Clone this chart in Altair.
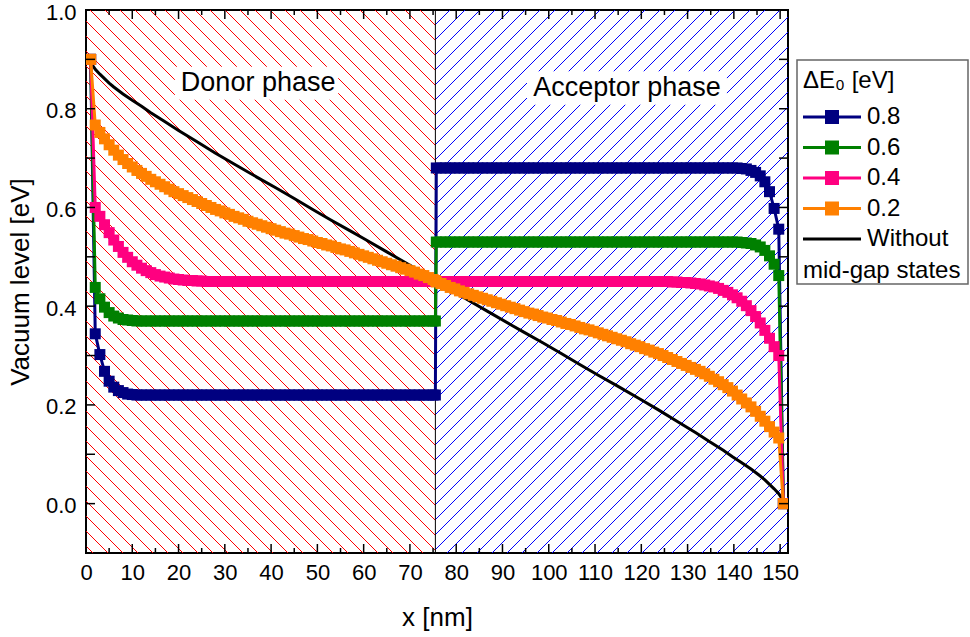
import altair as alt
import pandas as pd

# ---------------- simulation grid (nm) ----------------
x_donor = [float(i) for i in range(1, 76)] + [75.5]
x_acceptor = [round(75.7 + i, 1) for i in range(76)]

# ---------------- vacuum level profiles [eV] ----------------
blue_donor = [0.900, 0.344, 0.302, 0.268, 0.248, 0.236, 0.229, 0.225, 0.222, 0.221,
              0.220, 0.220, 0.220, 0.220, 0.220, 0.220, 0.220, 0.220, 0.220, 0.220, 0.220,
              0.220, 0.220, 0.220, 0.220, 0.220, 0.220, 0.220, 0.220, 0.220, 0.220, 0.220,
              0.220, 0.220, 0.220, 0.220, 0.220, 0.220, 0.220, 0.220, 0.220, 0.220, 0.220,
              0.220, 0.220, 0.220, 0.220, 0.220, 0.220, 0.220, 0.220, 0.220, 0.220, 0.220,
              0.220, 0.220, 0.220, 0.220, 0.220, 0.220, 0.220, 0.220, 0.220, 0.220, 0.220,
              0.220, 0.220, 0.220, 0.220, 0.220, 0.220, 0.220, 0.220, 0.220, 0.220, 0.220]
blue_acceptor = [0.680, 0.680, 0.680, 0.680, 0.680, 0.680, 0.680, 0.680, 0.680, 0.680, 0.680,
                 0.680, 0.680, 0.680, 0.680, 0.680, 0.680, 0.680, 0.680, 0.680, 0.680, 0.680,
                 0.680, 0.680, 0.680, 0.680, 0.680, 0.680, 0.680, 0.680, 0.680, 0.680, 0.680,
                 0.680, 0.680, 0.680, 0.680, 0.680, 0.680, 0.680, 0.680, 0.680, 0.680, 0.680,
                 0.680, 0.680, 0.680, 0.680, 0.680, 0.680, 0.680, 0.680, 0.680, 0.680, 0.680,
                 0.680, 0.680, 0.680, 0.680, 0.680, 0.680, 0.680, 0.680, 0.680, 0.680, 0.680,
                 0.679, 0.678, 0.675, 0.671, 0.664, 0.652, 0.632, 0.598, 0.556, 0.000]

green_donor = [0.900, 0.438, 0.415, 0.398, 0.387, 0.380, 0.376, 0.373, 0.372, 0.371,
               0.370, 0.370, 0.370, 0.370, 0.370, 0.370, 0.370, 0.370, 0.370, 0.370, 0.370,
               0.370, 0.370, 0.370, 0.370, 0.370, 0.370, 0.370, 0.370, 0.370, 0.370, 0.370,
               0.370, 0.370, 0.370, 0.370, 0.370, 0.370, 0.370, 0.370, 0.370, 0.370, 0.370,
               0.370, 0.370, 0.370, 0.370, 0.370, 0.370, 0.370, 0.370, 0.370, 0.370, 0.370,
               0.370, 0.370, 0.370, 0.370, 0.370, 0.370, 0.370, 0.370, 0.370, 0.370, 0.370,
               0.370, 0.370, 0.370, 0.370, 0.370, 0.370, 0.370, 0.370, 0.370, 0.370, 0.370]
green_acceptor = [0.530, 0.530, 0.530, 0.530, 0.530, 0.530, 0.530, 0.530, 0.530, 0.530, 0.530,
                  0.530, 0.530, 0.530, 0.530, 0.530, 0.530, 0.530, 0.530, 0.530, 0.530, 0.530,
                  0.530, 0.530, 0.530, 0.530, 0.530, 0.530, 0.530, 0.530, 0.530, 0.530, 0.530,
                  0.530, 0.530, 0.530, 0.530, 0.530, 0.530, 0.530, 0.530, 0.530, 0.530, 0.530,
                  0.530, 0.530, 0.530, 0.530, 0.530, 0.530, 0.530, 0.530, 0.530, 0.530, 0.530,
                  0.530, 0.530, 0.530, 0.530, 0.530, 0.530, 0.530, 0.530, 0.530, 0.530, 0.530,
                  0.529, 0.528, 0.527, 0.524, 0.520, 0.513, 0.502, 0.485, 0.462, 0.000]

pink_donor = [0.900, 0.600, 0.582, 0.565, 0.549, 0.534, 0.521, 0.509, 0.499, 0.490,
              0.483, 0.477, 0.472, 0.468, 0.464, 0.461, 0.459, 0.457, 0.455, 0.454,
              0.453, 0.452, 0.452, 0.451, 0.451,
              0.450, 0.450, 0.450, 0.450, 0.450, 0.450, 0.450, 0.450, 0.450, 0.450,
              0.450, 0.450, 0.450, 0.450, 0.450, 0.450, 0.450, 0.450, 0.450, 0.450,
              0.450, 0.450, 0.450, 0.450, 0.450, 0.450, 0.450, 0.450, 0.450, 0.450,
              0.450, 0.450, 0.450, 0.450, 0.450, 0.450, 0.450, 0.450, 0.450, 0.450,
              0.450, 0.450, 0.450, 0.450, 0.450, 0.450, 0.450, 0.450, 0.450, 0.450, 0.450]
pink_acceptor = [0.450, 0.450, 0.450, 0.450, 0.450, 0.450, 0.450, 0.450, 0.450, 0.450,
                 0.450, 0.450, 0.450, 0.450, 0.450, 0.450, 0.450, 0.450, 0.450, 0.450,
                 0.450, 0.450, 0.450, 0.450, 0.450, 0.450, 0.450, 0.450, 0.450, 0.450,
                 0.450, 0.450, 0.450, 0.450, 0.450, 0.450, 0.450, 0.450, 0.450, 0.450,
                 0.450, 0.450, 0.450, 0.450, 0.450, 0.450, 0.450, 0.450, 0.450, 0.450, 0.450,
                 0.449, 0.449, 0.448, 0.448, 0.447, 0.446, 0.445, 0.443, 0.441, 0.439,
                 0.436, 0.432, 0.428, 0.423, 0.417, 0.410, 0.401, 0.391, 0.379, 0.366,
                 0.351, 0.335, 0.318, 0.300, 0.000]

orange_donor = [0.900, 0.767, 0.752, 0.739, 0.727, 0.716, 0.706, 0.697, 0.689, 0.682,
                0.675, 0.669, 0.663, 0.657, 0.652, 0.647, 0.642, 0.637, 0.632, 0.628,
                0.624, 0.620, 0.616, 0.612, 0.608, 0.604, 0.600, 0.596, 0.593, 0.589,
                0.586, 0.582, 0.579, 0.576, 0.572, 0.569, 0.566, 0.563, 0.560, 0.557,
                0.554, 0.551, 0.548, 0.546, 0.543, 0.540, 0.537, 0.535, 0.532, 0.529,
                0.527, 0.524, 0.522, 0.519, 0.516, 0.514, 0.511, 0.508, 0.505, 0.502,
                0.499, 0.496, 0.493, 0.490, 0.487, 0.484, 0.481, 0.478, 0.475, 0.472,
                0.469, 0.465, 0.462, 0.458, 0.454, 0.452]
orange_acceptor = [0.449, 0.446, 0.442, 0.438, 0.435, 0.431, 0.428, 0.425, 0.422, 0.419,
                   0.416, 0.413, 0.410, 0.407, 0.404, 0.401, 0.398, 0.395, 0.392, 0.389,
                   0.386, 0.384, 0.381, 0.378, 0.376, 0.373, 0.371, 0.368, 0.365, 0.363,
                   0.360, 0.357, 0.354, 0.352, 0.349, 0.346, 0.343, 0.340, 0.337, 0.334,
                   0.331, 0.328, 0.324, 0.321, 0.318, 0.314, 0.311, 0.307, 0.304, 0.300,
                   0.296, 0.292, 0.288, 0.284, 0.280, 0.276, 0.272, 0.268, 0.263, 0.258,
                   0.252, 0.247, 0.241, 0.235, 0.228, 0.220, 0.212, 0.204, 0.196, 0.187,
                   0.177, 0.167, 0.156, 0.145, 0.133, 0.000]

# reference profile without mid-gap states
black_x = [1, 1.5, 2, 3, 4, 5, 6, 7, 8, 10, 12, 14, 17, 20, 24, 28, 32, 37, 41, 45,
           49, 53, 57, 60, 65, 70, 75.5,
           76.2, 81.7, 86.7, 91.7, 94.7, 98.7, 102.7, 106.7, 110.7, 114.7, 119.7, 123.7,
           127.7, 131.7, 134.7, 137.7, 139.7, 141.7, 143.7, 144.7, 145.7, 146.7, 147.7,
           148.7, 149.7, 150.2, 150.7]
black_y = [0.895, 0.887, 0.880, 0.870, 0.861, 0.852, 0.844, 0.837, 0.830, 0.817, 0.805,
           0.792, 0.774, 0.756, 0.733, 0.710, 0.688, 0.661, 0.640, 0.618, 0.596, 0.574,
           0.553, 0.537, 0.510, 0.483, 0.453,
           0.447, 0.417, 0.390, 0.363, 0.347, 0.326, 0.304, 0.282, 0.260, 0.239, 0.212,
           0.190, 0.167, 0.144, 0.126, 0.108, 0.095, 0.083, 0.070, 0.063, 0.056, 0.048,
           0.039, 0.030, 0.020, 0.013, 0.005]

series_names = ["0.8", "0.6", "0.4", "0.2", "Without"]
series_colors = ["#000080", "#008000", "#FF0080", "#FF8000", "#000000"]

# axis ticks / labels
x_label_values = [0, 10, 20, 30, 40, 50, 60, 70, 80, 90, 100, 110, 120, 130, 140, 150]
x_minor_values = [5, 15, 25, 35, 45, 55, 65, 75, 85, 95, 105, 115, 125, 135, 145]
y_label_values = [0.0, 0.2, 0.4, 0.6, 0.8, 1.0]
y_tick_values = [0.0, 0.1, 0.2, 0.3, 0.4, 0.5, 0.6, 0.7, 0.8, 0.9]

X_INTERFACE = 75.5
X_MAX = 151.7
Y_MIN, Y_MAX = -0.1, 1.0
W, H = 702, 543
FONT = "Liberation Sans"

x_scale = alt.Scale(domain=[0, X_MAX], nice=False, zero=False)
y_scale = alt.Scale(domain=[Y_MIN, Y_MAX], nice=False, zero=False)
x_axis = alt.Axis(values=x_label_values, title="x [nm]", ticks=False, domain=False, grid=False,
                  labelFontSize=22, titleFontSize=26, titleFontWeight="normal",
                  labelPadding=9, titlePadding=21, labelFlush=False, labelOverlap=False,
                  labelColor="black", titleColor="black")
y_axis = alt.Axis(values=y_label_values, format=".1f", title="Vacuum level [eV]", ticks=False,
                  domain=False, grid=False, labelFontSize=22, titleFontSize=26,
                  titleFontWeight="normal", labelPadding=10, titlePadding=12, labelFlush=False,
                  labelOverlap=False, labelOffset=2, labelColor="black", titleColor="black")
X = alt.X("x:Q", scale=x_scale, axis=x_axis)
Y = alt.Y("y:Q", scale=y_scale, axis=y_axis)

# ---------------- hatch pattern for the two phases ----------------
kx = W / X_MAX
ky = H / (Y_MAX - Y_MIN)
x_if_px = X_INTERFACE * kx
step = 15


def to_data(px, py):
    return px / kx, Y_MAX - py / ky


red_rows, blue_rows = [], []
c = -int(x_if_px)
while c < H:
    xa, xb = max(0.0, -c), min(x_if_px, H - c)
    if xb > xa:
        x1, y1 = to_data(xa, xa + c)
        x2, y2 = to_data(xb, xb + c)
        red_rows.append({"x": x1, "y": y1, "x2": x2, "y2": y2})
    c += step
c = int(x_if_px)
while c < W + H:
    xa, xb = max(x_if_px, c - H), min(float(W), c)
    if xb > xa:
        x1, y1 = to_data(xa, c - xa)
        x2, y2 = to_data(xb, c - xb)
        blue_rows.append({"x": x1, "y": y1, "x2": x2, "y2": y2})
    c += step

hatch_red = alt.Chart(pd.DataFrame(red_rows)).mark_rule(color="#FF0000", strokeWidth=1, clip=True).encode(
    x=X, y=Y, x2="x2:Q", y2="y2:Q")
hatch_blue = alt.Chart(pd.DataFrame(blue_rows)).mark_rule(color="#0000FF", strokeWidth=1, clip=True).encode(
    x=X, y=Y, x2="x2:Q", y2="y2:Q")

interface = alt.Chart(pd.DataFrame({"x": [X_INTERFACE], "y": [Y_MIN], "y2": [Y_MAX]})).mark_rule(
    color="black", strokeWidth=1).encode(x=X, y=Y, y2="y2:Q")

# phase labels on white boxes
phase_df = pd.DataFrame({
    "label": ["Donor phase", "Acceptor phase"],
    "x": [37.2, 116.9], "y": [0.852, 0.842],
    "x0": [19.2, 95.3], "x1": [54.5, 138.5],
    "y0": [0.818, 0.808], "y1": [0.885, 0.876],
})
phase_boxes = alt.Chart(phase_df).mark_rect(fill="white").encode(
    x=alt.X("x0:Q", scale=x_scale, axis=x_axis), x2="x1:Q",
    y=alt.Y("y0:Q", scale=y_scale, axis=y_axis), y2="y1:Q")
phase_text = alt.Chart(phase_df).mark_text(fontSize=27, align="center", baseline="middle",
                                           color="black").encode(x=X, y=Y, text="label:N")

# ---------------- curves ----------------
black_line = alt.Chart(pd.DataFrame({"x": black_x, "y": black_y})).mark_line(
    color="black", strokeWidth=3, clip=True).encode(x=X, y=Y)

x_all = x_donor + x_acceptor
curve_values = [blue_donor + blue_acceptor, green_donor + green_acceptor,
                pink_donor + pink_acceptor, orange_donor + orange_acceptor]
curve_layers = []
for vals, col in zip(curve_values, series_colors[:4]):
    df = pd.DataFrame({"x": x_all, "y": vals})
    curve_layers.append(alt.Chart(df).mark_line(color=col, strokeWidth=3, clip=True).encode(x=X, y=Y))
    curve_layers.append(alt.Chart(df).mark_point(shape="square", filled=True, size=121, color=col,
                                                 opacity=1, clip=True).encode(x=X, y=Y))

# ---------------- inward ticks on all four sides ----------------
def xticks(values, length, top):
    y0, y1 = (0, length) if top else (H, H - length)
    return alt.Chart(pd.DataFrame({"x": values})).mark_rule(color="black", strokeWidth=1.5).encode(
        x=X, y=alt.value(y0), y2=alt.value(y1))


def yticks(values, length, right):
    x0, x1 = (W, W - length) if right else (0, length)
    return alt.Chart(pd.DataFrame({"y": values})).mark_rule(color="black", strokeWidth=1.5).encode(
        y=Y, x=alt.value(x0), x2=alt.value(x1))


tick_layers = [xticks(x_label_values, 9, False), xticks(x_minor_values, 5, False),
               xticks(x_label_values, 9, True), xticks(x_minor_values, 5, True),
               yticks(y_tick_values, 9, False), yticks(y_tick_values, 9, True)]

# ---------------- legend ----------------
# symbol = short line with a square marker (path units scaled by sqrt(size)/2 = 10 px)
marker_path = "M-2.9,0H2.9M-0.55,-0.55H0.55V0.55H-0.55Z"
line_path = "M-2.9,0H2.9"
legend_cfg = alt.Legend(title="ΔE₀ [eV]", orient="none", legendX=717, legendY=59,
                        labelFontSize=24, titleFontSize=24, titleFontWeight="normal",
                        titleColor="black", labelColor="black", labelFont=FONT, titleFont=FONT,
                        symbolSize=400, symbolStrokeWidth=3, symbolOffset=17, rowPadding=6.5,
                        titlePadding=12, padding=0, labelOffset=23)
legend_df = pd.DataFrame({"x": [-60.0] * 5, "y": [-5.0] * 5, "series": series_names})
legend_layer = alt.Chart(legend_df).mark_point(filled=True, clip=True, opacity=1, size=400,
                                               strokeWidth=3).encode(
    x=X, y=Y,
    fill=alt.Fill("series:N", scale=alt.Scale(domain=series_names, range=series_colors),
                  legend=legend_cfg),
    stroke=alt.Stroke("series:N", scale=alt.Scale(domain=series_names, range=series_colors),
                      legend=legend_cfg),
    shape=alt.Shape("series:N", scale=alt.Scale(domain=series_names,
                                                range=[marker_path] * 4 + [line_path]),
                    legend=legend_cfg),
)
legend_box = alt.Chart(pd.DataFrame({"k": [0]})).mark_rect(
    fill="white", stroke="#666666", strokeWidth=1.5).encode(
    x=alt.value(711), x2=alt.value(882), y=alt.value(50), y2=alt.value(274))
legend_extra = alt.Chart(pd.DataFrame({"t": ["mid-gap states"]})).mark_text(
    fontSize=24, align="left", baseline="middle", color="black").encode(
    x=alt.value(717), y=alt.value(261), text="t:N")

chart = alt.layer(
    hatch_red, hatch_blue, interface, phase_boxes, phase_text,
    black_line, *curve_layers, *tick_layers,
    legend_box, legend_extra, legend_layer,
).properties(
    width=W, height=H,
    padding={"left": 86, "top": 10, "right": 182, "bottom": 84},
    autosize=alt.AutoSizeParams(type="none"),
).configure(font=FONT).configure_view(stroke="black", strokeWidth=2)

chart.save("out.html", embed_options={"renderer": "svg", "actions": False})
